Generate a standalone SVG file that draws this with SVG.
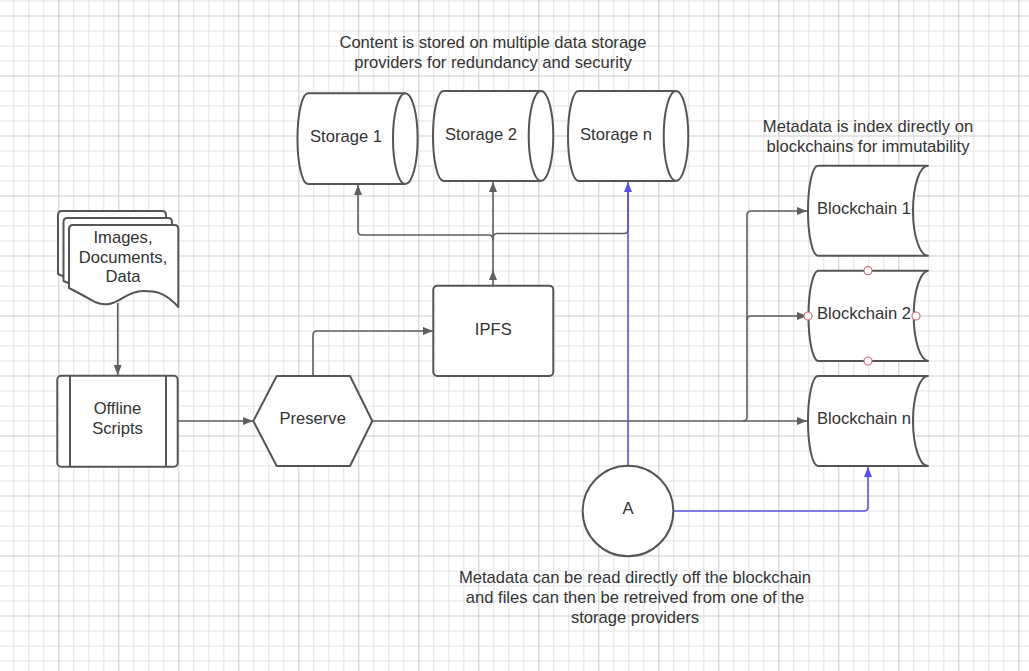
<svg xmlns="http://www.w3.org/2000/svg" width="1029" height="671" viewBox="0 0 1029 671">
<style>
.shape{fill:#fff;stroke:#555;stroke-width:2;stroke-linejoin:round}
.inner{fill:none;stroke:#555;stroke-width:2}
.t{font-family:"Liberation Sans",Arial,sans-serif;font-size:16.6px;fill:#333;text-anchor:middle}
.c{fill:none;stroke:#5e5e5e;stroke-width:1.6}
.cb{fill:none;stroke:#5f53e8;stroke-width:1.6}
.cp{fill:#fff;stroke:#d26b7c;stroke-width:1.2}
</style>
<defs>
<pattern id="grid" patternUnits="userSpaceOnUse" x="-1.7" y="15.5" width="60" height="60">
<path d="M15.5 0V60M30.5 0V60M45.5 0V60M0 15.5H60M0 30.5H60M0 45.5H60" stroke="#e3e3e3" stroke-width="1" fill="none"/>
<path d="M0.5 0V60M0 0.5H60" stroke="#cdcdcd" stroke-width="1" fill="none"/>
</pattern>
<marker id="ag" viewBox="0 0 10 8" refX="10" refY="4" markerWidth="10" markerHeight="8" markerUnits="userSpaceOnUse" orient="auto">
<path d="M0 0L10 4L0 8Z" fill="#5e5e5e"/>
</marker>
<marker id="ab" viewBox="0 0 10 8" refX="10" refY="4" markerWidth="10" markerHeight="8" markerUnits="userSpaceOnUse" orient="auto">
<path d="M0 0L10 4L0 8Z" fill="#5a4ef2"/>
</marker>
</defs>
<rect width="1029" height="671" fill="#fff"/>
<rect width="1029" height="671" fill="url(#grid)"/>

<g id="connectors">
<path class="c" d="M117.7 303V375" marker-end="url(#ag)"/>
<path class="c" d="M178 421H253" marker-end="url(#ag)"/>
<path class="c" d="M313 376V335Q313 331 317 331H433" marker-end="url(#ag)"/>
<path class="c" d="M372 421H807" marker-end="url(#ag)"/>
<path class="c" d="M743 421Q747 421 747 417V215Q747 211 751 211H807" marker-end="url(#ag)"/>
<path class="c" d="M747 320Q747 316 751 316H807" marker-end="url(#ag)"/>
<path class="c" d="M493 286V270" marker-end="url(#ag)"/>
<path class="c" d="M493 272V182" marker-end="url(#ag)"/>
<path class="c" d="M493 240Q493 235 489 235H362Q358 235 358 231V185" marker-end="url(#ag)"/>
<path class="c" d="M493 239Q493 233.5 497 233.5H624Q628 233.5 628 229.5V190"/>
<path class="cb" d="M628 466V182" marker-end="url(#ab)"/>
<path class="cb" d="M673 511H864Q868 511 868 507V467" marker-end="url(#ab)"/>
</g>

<g id="storage1">
<path class="shape" d="M308 93.3H405.3A12.3 45.3 0 0 1 405.3 184H308A10.5 45.3 0 0 1 308 93.3Z"/>
<path class="inner" d="M405.3 93.3A12.3 45.3 0 0 0 405.3 184"/>
<text class="t" x="346" y="141.5">Storage 1</text>
</g>
<g id="storage2">
<path class="shape" d="M443.5 91H541A12.3 45 0 0 1 541 181H443.5A10.5 45 0 0 1 443.5 91Z"/>
<path class="inner" d="M541 91A12.3 45 0 0 0 541 181"/>
<text class="t" x="481" y="140">Storage 2</text>
</g>
<g id="storagen">
<path class="shape" d="M578.5 91H676A12.3 45 0 0 1 676 181H578.5A10.5 45 0 0 1 578.5 91Z"/>
<path class="inner" d="M676 91A12.3 45 0 0 0 676 181"/>
<text class="t" x="616" y="140">Storage n</text>
</g>

<g id="blockchain1">
<path class="shape" d="M818 165.7H928A15 45 0 0 0 928 255.7H818A10 45 0 0 1 818 165.7Z"/>
<text class="t" x="864" y="214">Blockchain 1</text>
</g>
<g id="blockchain2">
<path class="shape" d="M818 270.7H928A15 45.2 0 0 0 928 361H818A10 45.2 0 0 1 818 270.7Z"/>
<text class="t" x="864" y="319">Blockchain 2</text>
<circle class="cp" cx="868" cy="270.7" r="4"/>
<circle class="cp" cx="868" cy="361" r="4"/>
<circle class="cp" cx="808" cy="316" r="4"/>
<circle class="cp" cx="916" cy="316" r="4"/>
</g>
<g id="blockchainn">
<path class="shape" d="M818 376H928A15 45 0 0 0 928 466H818A10 45 0 0 1 818 376Z"/>
<text class="t" x="864" y="424">Blockchain n</text>
</g>

<g id="documents">
<path class="shape" d="M62 211H162Q166 211 166 215V293C153 277 143 277 131 277C111 277 104 297 83 288C74 283 66 277 58 274V215Q58 211 62 211Z"/>
<path class="shape" d="M67.5 218H168Q172 218 172 222V300C159 284 149 284 137 284C117 284 110 304 89 295C80 290 72 284 63.5 281V222Q63.5 218 67.5 218Z"/>
<path class="shape" d="M73 225H174.3Q178.3 225 178.3 229V307C165 292 155 291 143 291C123 291 116 311 95 302C86 297 77 292 69 288V229Q69 225 73 225Z"/>
<text class="t" x="123" y="243">Images,</text>
<text class="t" x="123" y="262.5">Documents,</text>
<text class="t" x="123" y="282">Data</text>
</g>

<g id="offline">
<rect class="shape" x="57.3" y="375.7" width="120.4" height="91" rx="4"/>
<path class="inner" d="M70 375.7V466.7M166 375.7V466.7"/>
<text class="t" x="117.5" y="414">Offline</text>
<text class="t" x="117.5" y="434">Scripts</text>
</g>

<g id="preserve">
<path class="shape" d="M276.7 376H350L372.3 421L350 466H276.7L253.3 421Z"/>
<text class="t" x="312.7" y="424">Preserve</text>
</g>

<g id="ipfs">
<rect class="shape" x="433.3" y="285.7" width="120" height="90.3" rx="4"/>
<text class="t" x="493.3" y="335">IPFS</text>
</g>

<g id="a">
<circle class="shape" cx="628" cy="511" r="45.3"/>
<text class="t" x="628" y="514">A</text>
</g>

<g id="notes">
<text class="t" x="493" y="48">Content is stored on multiple data storage</text>
<text class="t" x="493" y="68">providers for redundancy and security</text>
<text class="t" x="868" y="132">Metadata is index directly on</text>
<text class="t" x="868" y="152">blockchains for immutability</text>
<text class="t" x="635" y="583">Metadata can be read directly off the blockchain</text>
<text class="t" x="635" y="603">and files can then be retreived from one of the</text>
<text class="t" x="635" y="623">storage providers</text>
</g>
</svg>
